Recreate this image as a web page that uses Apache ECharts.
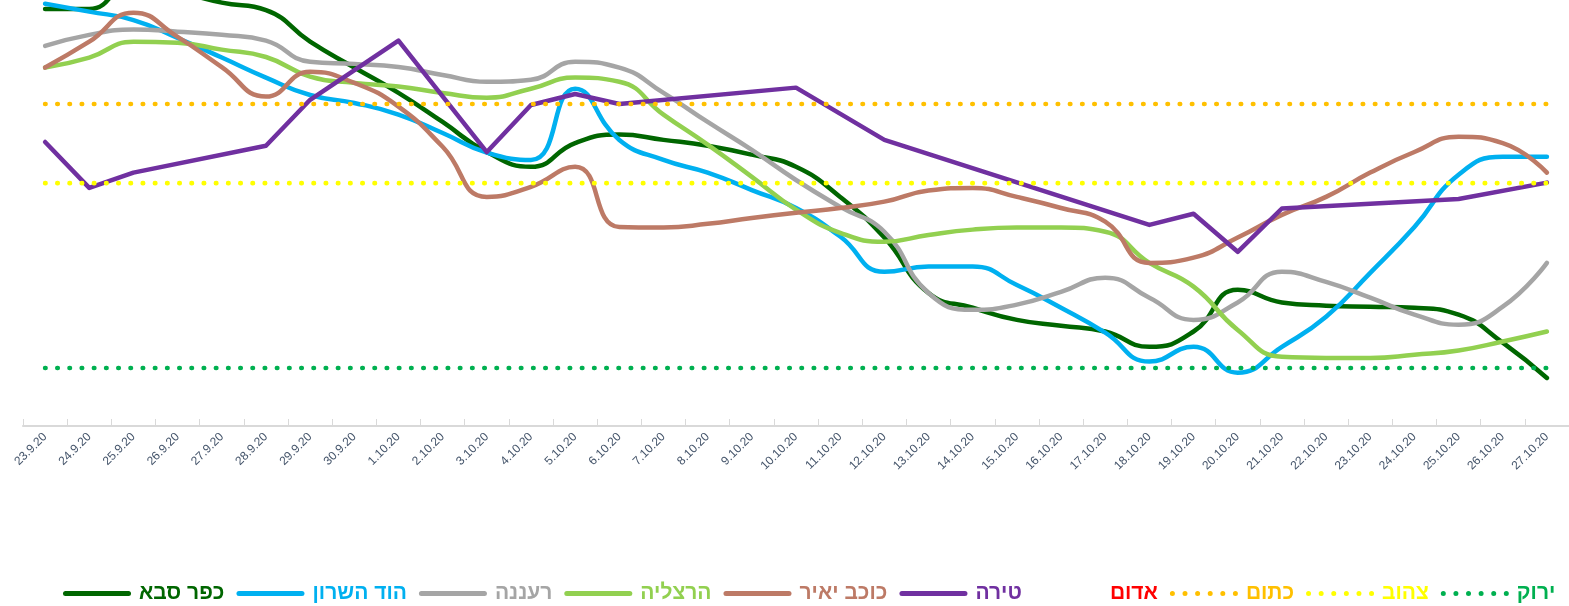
<!DOCTYPE html>
<html>
<head>
<meta charset="utf-8">
<script src="https://cdn.jsdelivr.net/npm/echarts@6/dist/echarts.min.js"></script>
<style>
html,body{margin:0;padding:0;background:#fff;}
#chart{width:1569px;height:606px;}
</style>
</head>
<body>
<div id="chart"></div>
<script>
// ---- data ----
const categories = ['23.9.20','24.9.20','25.9.20','26.9.20','27.9.20','28.9.20','29.9.20','30.9.20',
  '1.10.20','2.10.20','3.10.20','4.10.20','5.10.20','6.10.20','7.10.20','8.10.20','9.10.20','10.10.20',
  '11.10.20','12.10.20','13.10.20','14.10.20','15.10.20','16.10.20','17.10.20','18.10.20','19.10.20',
  '20.10.20','21.10.20','22.10.20','23.10.20','24.10.20','25.10.20','26.10.20','27.10.20'];

const kfarSaba = [9.30,9.30,9.81,9.63,9.42,9.28,8.68,8.19,7.71,7.16,6.59,6.31,6.76,6.92,6.82,6.71,6.54,6.31,
  5.74,4.97,3.92,3.64,3.41,3.30,3.19,2.90,3.19,3.98,3.74,3.68,3.66,3.64,3.51,2.98,2.31];
const hodHasharon = [9.40,9.25,9.09,8.75,8.38,8.00,7.67,7.52,7.30,6.95,6.58,6.44,7.79,6.82,6.44,6.20,5.87,5.53,
  4.99,4.32,4.42,4.42,4.07,3.64,3.17,2.62,2.90,2.41,2.90,3.47,4.30,5.17,6.16,6.50,6.50];
const raanana = [8.60,8.81,8.91,8.87,8.81,8.70,8.30,8.26,8.20,8.05,7.92,7.96,8.30,8.19,7.71,7.16,6.63,6.06,
  5.55,5.08,3.92,3.60,3.70,3.94,4.21,3.83,3.41,3.74,4.32,4.13,3.83,3.51,3.32,3.66,4.49];
const herzliya = [8.19,8.38,8.68,8.66,8.53,8.39,8.02,7.90,7.83,7.71,7.62,7.79,8.00,7.92,7.30,6.73,6.12,5.50,
  5.06,4.89,5.02,5.12,5.16,5.16,5.08,4.49,4.04,3.22,2.71,2.69,2.69,2.75,2.83,3.00,3.19];
const kochavYair = [8.19,8.68,9.23,8.77,8.20,7.64,8.11,7.90,7.45,6.69,5.74,5.93,6.31,5.17,5.16,5.23,5.34,5.44,
  5.53,5.65,5.86,5.91,5.74,5.53,5.27,4.49,4.59,4.97,5.40,5.74,6.20,6.59,6.88,6.76,6.20];
const tira = [6.78,5.91,6.20,null,null,6.71,7.58,null,8.70,null,6.59,7.48,7.69,7.50,null,null,null,7.81,
  null,6.82,null,null,null,null,null,5.21,5.42,4.70,5.52,null,null,null,5.70,null,6.01];

// traffic-light thresholds
const RED_LEVEL = 10;
const ORANGE_LEVEL = 7.5;
const YELLOW_LEVEL = 6;
const GREEN_LEVEL = 2.5;

const cities = [
  {name:'כפר סבא', data:kfarSaba, color:'#006600', smooth:true},
  {name:'הוד השרון', data:hodHasharon, color:'#00b0f0', smooth:true},
  {name:'רעננה', data:raanana, color:'#a5a5a5', smooth:true},
  {name:'הרצליה', data:herzliya, color:'#92d050', smooth:true},
  {name:'כוכב יאיר', data:kochavYair, color:'#bd7a66', smooth:true},
  {name:'טירה', data:tira, color:'#7030a0', smooth:false}
];
const levels = [
  {name:'אדום', value:RED_LEVEL, color:'#ff0000'},
  {name:'כתום', value:ORANGE_LEVEL, color:'#ffc000'},
  {name:'צהוב', value:YELLOW_LEVEL, color:'#ffff00'},
  {name:'ירוק', value:GREEN_LEVEL, color:'#00b050'}
];

// legend icon shapes
const LINE_ICON = 'path://M2.5,0 L65.5,0 A2.5,2.5 0 0 1 65.5,5 L2.5,5 A2.5,2.5 0 0 1 2.5,0 Z';
function dotsIcon() {
  let p = 'path://';
  for (let k = 0; k < 6; k++) {
    const cx = 2.5 + 12.6 * k;
    p += 'M' + (cx - 2.5) + ',2.5 A2.5,2.5 0 1 0 ' + (cx + 2.5) + ',2.5 A2.5,2.5 0 1 0 ' + (cx - 2.5) + ',2.5 Z ';
  }
  return p;
}
const DOTS_ICON = dotsIcon();

const series = [];
cities.forEach(c => series.push({
  name:c.name, type:'line', data:c.data, smooth:c.smooth, connectNulls:true,
  symbol:'none', showSymbol:false, color:c.color,
  lineStyle:{color:c.color, width:4.5, cap:'round', join:'round'}
}));
levels.forEach(l => series.push({
  name:l.name, type:'line', data:categories.map(() => l.value),
  symbol:'none', showSymbol:false, color:l.color,
  lineStyle:{color:l.color, width:4.6, type:[0.5, 11.7], cap:'round'}
}));

const legendData = cities.map(c => ({name:c.name, icon:LINE_ICON, itemStyle:{color:c.color}, textStyle:{color:c.color}}))
  .concat(levels.map(l => l.name === 'אדום'
    ? {name:l.name, icon:DOTS_ICON, itemStyle:{color:'rgba(0,0,0,0)'}, textStyle:{color:l.color}}
    : {name:l.name, icon:DOTS_ICON, itemStyle:{color:l.color}, textStyle:{color:l.color}}));

const chart = echarts.init(document.getElementById('chart'), null, {renderer:'canvas'});
chart.setOption({
  animation:false,
  backgroundColor:'#ffffff',
  grid:{left:23, right:0, top:0, bottom:180, containLabel:false},
  legend:{
    data:legendData, left:58, top:578, width:1510,
    itemWidth:68, itemHeight:5, itemGap:12,
    textStyle:{fontFamily:'Liberation Sans, Arial, sans-serif', fontSize:21, fontWeight:'bold', padding:[0,0,0,3]}
  },
  xAxis:{
    type:'category', data:categories, boundaryGap:true,
    axisLine:{lineStyle:{color:'#d9d9d9', width:2}},
    axisTick:{show:true, inside:true, length:7, lineStyle:{color:'#d9d9d9', width:1}},
    axisLabel:{interval:0, rotate:45, margin:9, fontSize:12, color:'#44546a',
      fontFamily:'Liberation Sans, Arial, sans-serif'},
    splitLine:{show:false}
  },
  yAxis:{
    type:'value', min:1.4, max:9.47, show:false, splitLine:{show:false}
  },
  series:series
});
</script>
</body>
</html>
